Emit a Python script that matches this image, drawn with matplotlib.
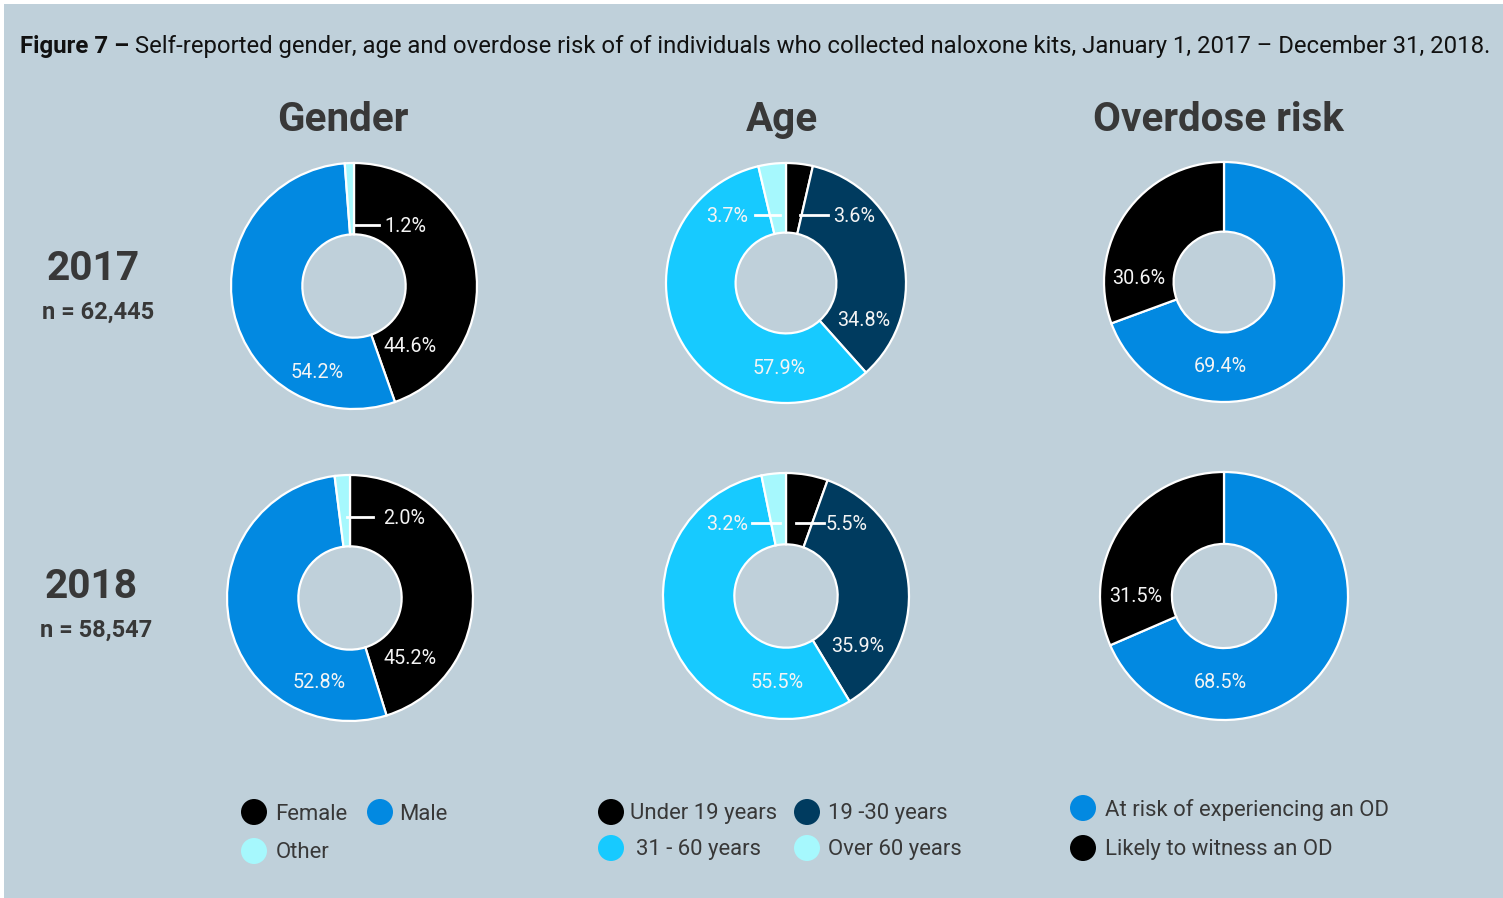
import matplotlib.pyplot as plt
from matplotlib.patches import Circle, Rectangle

plt.rcParams['font.family'] = ['Roboto', 'DejaVu Sans']

# data
gender_labels = ["Female", "Male", "Other"]
gender_2017 = [44.6, 54.2, 1.2]
gender_2018 = [45.2, 52.8, 2.0]

age_labels = ["Under 19 years", "19 -30 years", "31 - 60 years", "Over 60 years"]
age_2017 = [3.6, 34.8, 57.9, 3.7]
age_2018 = [5.5, 35.9, 55.5, 3.2]

od_labels = ["At risk of experiencing an OD", "Likely to witness an OD"]
od_2017 = [69.4, 30.6]
od_2018 = [68.5, 31.5]

years = ["2017", "2018"]
n_values = ["n = 62,445", "n = 58,547"]

BG = "#bfd0da"
BLACK = "#000000"
BLUE = "#0289e1"
NAVY = "#003b5f"
CYAN = "#17caff"
PALE = "#a6f8fd"
TXT = "#383838"

gender_colors = [BLACK, BLUE, PALE]
age_colors = [BLACK, NAVY, CYAN, PALE]
od_colors = [BLUE, BLACK]

W, H = 1503, 898
fig = plt.figure(figsize=(W / 100, H / 100), dpi=100)
fig.patch.set_facecolor("white")
ax = fig.add_axes([0, 0, 1, 1])


def py(y):
    # pixel row -> data y
    return H - y


# (values, colors, centre px, outer radius px, inner label offsets, leader labels)
# inner label: (slice index, dx, dy) ; leader: (slice index, x0, x1, y, text x, ha)
pies = [
    (gender_2017, gender_colors, (354, 286), 123,
     [(0, 56, 59), (1, -37, 85)],
     [(2, 355, 379, 225, 384, "left")]),
    (gender_2018, gender_colors, (350, 598), 123,
     [(0, 60, 59), (1, -31, 83)],
     [(2, 347, 373, 517, 383, "left")]),
    (age_2017, age_colors, (786, 283), 120,
     [(1, 78, 36), (2, -7, 84)],
     [(0, 800, 828, 215, 833, "left"), (3, 755, 780, 215, 748, "right")]),
    (age_2018, age_colors, (786, 596), 123,
     [(1, 72, 49), (2, -9, 85)],
     [(0, 796, 824, 523, 826, "left"), (3, 752, 780, 523, 748, "right")]),
    (od_2017, od_colors, (1224, 282), 120,
     [(1, -85, -5), (0, -4, 83)],
     []),
    (od_2018, od_colors, (1224, 596), 124,
     [(1, -88, -1), (0, -4, 85)],
     []),
]

for vals, cols, (cx, cy), r, inner, leaders in pies:
    ax.pie(vals, colors=cols, center=(cx, py(cy)), radius=r,
           startangle=90, counterclock=False,
           wedgeprops=dict(width=r * 0.58, edgecolor="white", linewidth=1.6))
    for i, dx, dy in inner:
        ax.text(cx + dx, py(cy + dy + 1), f"{vals[i]:.1f}%", color="#f4f4f4",
                fontsize=14.2, ha="center", va="center")
    for i, x0, x1, y, tx, ha in leaders:
        ax.plot([x0, x1], [py(y), py(y)], color="white", lw=2)
        ax.text(tx, py(y + 1), f"{vals[i]:.1f}%", color="#f4f4f4",
                fontsize=14.2, ha=ha, va="center")

ax.set_xlim(0, W)
ax.set_ylim(0, H)
ax.set_aspect("auto")
ax.axis("off")

# grey panel with thin white margin top/left
ax.add_patch(Rectangle((4, 0), W - 4, H - 4, facecolor=BG, edgecolor="none", zorder=-10))

# title
t1 = ax.text(20, py(46), "Figure 7 \u2013", fontsize=17.25, fontweight="bold",
             color="#111111", ha="left", va="center")
ax.annotate(" Self-reported gender, age and overdose risk of of individuals who collected "
            "naloxone kits, January 1, 2017 \u2013 December 31, 2018.",
            xy=(1, 0), xycoords=t1, ha="left", va="bottom",
            fontsize=17.2, color="#111111")

# column headers
for x, txt in [(343, "Gender"), (782, "Age"), (1218, "Overdose risk")]:
    ax.text(x, py(120), txt, fontsize=29.1, fontweight="bold", color=TXT,
            ha="center", va="center")

# row labels
for (yy, ny), yr, nv in zip([(269, 312), (587, 630)], years, n_values):
    ax.text(93 if yr == "2017" else 91, py(yy), yr, fontsize=29.3, fontweight="bold",
            color=TXT, ha="center", va="center")
    ax.text(98 if yr == "2017" else 96, py(ny), nv, fontsize=17, fontweight="bold",
            color=TXT, ha="center", va="center")

# legends
legend_items = [
    (gender_labels, gender_colors, [(254, 812, 275), (380, 812, 399), (254, 851, 276)]),
    (age_labels, age_colors, [(611, 812, 630), (807, 812, 828), (611, 848, 636), (807, 848, 828)]),
    (od_labels, od_colors, [(1083, 808, 1105), (1083, 848, 1105)]),
]
for labels, cols, spots in legend_items:
    for lab, c, (mx, my, tx) in zip(labels, cols, spots):
        ax.add_patch(Circle((mx, py(my)), 13, facecolor=c, edgecolor="none"))
        ax.text(tx, py(my + 2), lab, fontsize=15.9, color=TXT, ha="left", va="center")

fig.savefig("out.png", dpi=100, facecolor="white")
